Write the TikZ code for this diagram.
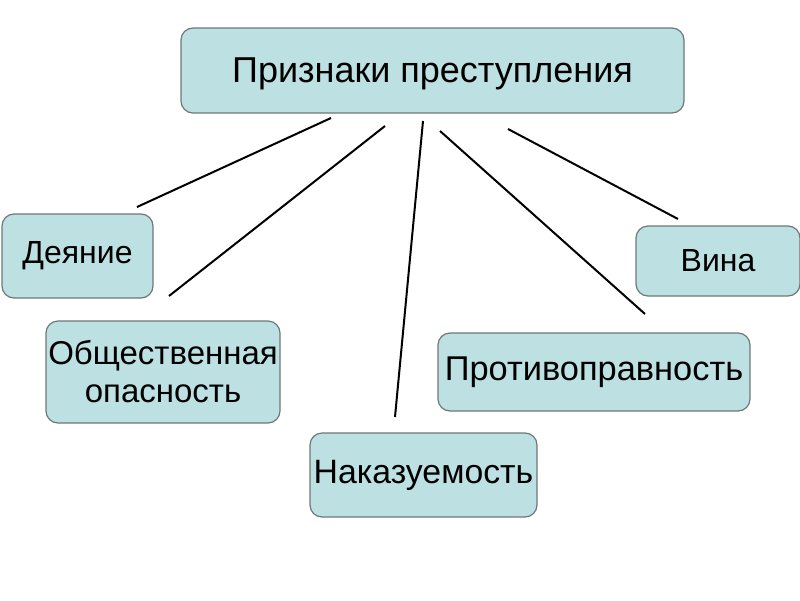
\documentclass[tikz,border=0pt]{standalone}
\usepackage{fontspec}
\setmainfont{Liberation Sans}
\definecolor{boxfill}{HTML}{BDE0E2}
\definecolor{boxline}{HTML}{6E7878}
\begin{document}
\begin{tikzpicture}[x=1pt,y=-1pt,
  box/.style={draw=boxline,fill=boxfill,line width=1.2pt,rounded corners=12pt,inner sep=0pt},
  conn/.style={line width=2pt,black}]
\useasboundingbox (0,0) rectangle (800,600);
\fill[white] (0,0) rectangle (800,600);
\node[box,minimum width=503pt,minimum height=85pt,text depth=0pt,font=\fontsize{36}{40}\selectfont] (top) at (432.5,70.5) {Признаки преступления};
\node[box,minimum width=151pt,minimum height=84pt,font=\fontsize{32}{36}\selectfont] (deyanie) at (77.5,256) {Деяние};
\node[box,minimum width=234pt,minimum height=102pt,align=center,font=\fontsize{33}{38}\selectfont] (obsh) at (163,372) {Общественная\\опасность};
\node[box,minimum width=227pt,minimum height=84pt,font=\fontsize{33.8}{38}\selectfont] (nakaz) at (423.5,475) {Наказуемость};
\node[box,minimum width=312pt,minimum height=78pt,font=\fontsize{34.4}{38}\selectfont] (protiv) at (594,372) {Противоправность};
\node[box,minimum width=164pt,minimum height=70pt,font=\fontsize{32}{36}\selectfont] (vina) at (718,261) {Вина};
\coordinate (a1) at (331,118); \coordinate (b1) at (137,207);
\coordinate (a2) at (385,126); \coordinate (b2) at (169,296);
\coordinate (a3) at (423,121); \coordinate (b3) at (395,417);
\coordinate (a4) at (440,131); \coordinate (b4) at (645,314);
\coordinate (a5) at (508,129); \coordinate (b5) at (678,219);
\draw[conn] (a1) -- (b1);
\draw[conn] (a2) -- (b2);
\draw[conn] (a3) -- (b3);
\draw[conn] (a4) -- (b4);
\draw[conn] (a5) -- (b5);
\end{tikzpicture}
\end{document}
